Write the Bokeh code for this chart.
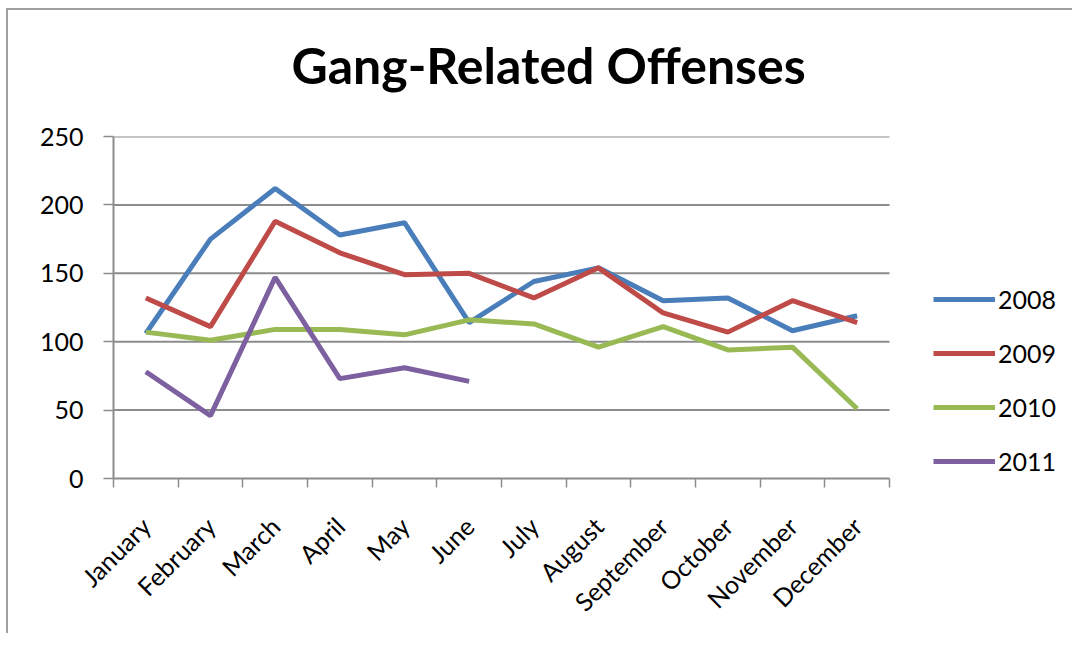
import math
from bokeh.plotting import figure
from bokeh.models import (Range1d, FixedTicker, Legend, LegendItem, ColumnDataSource,
                          Title, InlineStyleSheet, LinearAxis)
from bokeh.embed import file_html
from bokeh.resources import INLINE

months = ["January", "February", "March", "April", "May", "June",
          "July", "August", "September", "October", "November", "December"]
y2008 = [106, 175, 212, 178, 187, 114, 144, 154, 130, 132, 108, 119]
y2009 = [132, 111, 188, 165, 149, 150, 132, 154, 121, 107, 130, 114]
y2010 = [107, 101, 109, 109, 105, 116, 113, 96, 111, 94, 96, 51]
y2011 = [78, 46, 147, 73, 81, 71]
series_names = ["2008", "2009", "2010", "2011"]
series_values = [y2008, y2009, y2010, y2011]
series_colors = ["#4a7ebb", "#be4b48", "#98b954", "#7d60a0"]
y_ticks = [0, 50, 100, 150, 200, 250]
title_text = "Gang-Related Offenses"

GRAY = "#8c8c8c"
FONT = "Lato"

W, H = 1066, 625
LEFT, TOP, BOTTOM = 105, 126, 157
DATA_W = 776                      # pixel width of the category area
frame_w = W - LEFT
n = len(months)
x_end = n * frame_w / DATA_W

centers = [i + 0.5 for i in range(n)]
bounds = list(range(n + 1))

p = figure(width=W, height=H, output_backend="svg", toolbar_location=None,
           x_range=Range1d(0, x_end), y_range=Range1d(0, 250),
           min_border_left=LEFT, min_border_right=0, min_border_top=TOP,
           min_border_bottom=BOTTOM, title=None)
p.stylesheets = [InlineStyleSheet(
    css=":host { margin-left: 8px; margin-top: 10px; box-shadow: -2px -2px 0 0 #a0a0a0; }")]
p.outline_line_color = None
p.background_fill_color = "white"
p.border_fill_color = "white"

# invisible spacer axis between the plot area and the title
spacer = LinearAxis(ticker=FixedTicker(ticks=[0]), axis_line_color=None,
                    major_tick_line_color=None, minor_tick_line_color=None,
                    major_tick_out=42, major_tick_in=0, minor_tick_out=0,
                    major_label_standoff=0, major_label_overrides={0: ""},
                    major_label_text_font_size="1px")
p.add_layout(spacer, "above")

# title
title = Title(text=title_text, text_font=FONT, text_font_style="bold",
              text_font_size="50px", text_color="#000000", align="left",
              offset=178, standoff=0)
p.add_layout(title, "above")

# x axis
xa = p.below[0]
xa.bounds = (0, n)
xa.ticker = FixedTicker(ticks=centers, minor_ticks=bounds)
xa.major_label_overrides = {c: m for c, m in zip(centers, months)}
xa.major_tick_line_color = None
xa.minor_tick_line_color = GRAY
xa.minor_tick_line_width = 1.5
xa.minor_tick_in = 0
xa.minor_tick_out = 9
xa.axis_line_color = GRAY
xa.axis_line_width = 2
xa.major_label_orientation = math.pi / 4
xa.major_label_text_font = FONT
xa.major_label_text_font_size = "25px"
xa.major_label_text_color = "#000000"
xa.major_label_standoff = 34

# y axis
ya = p.yaxis[0]
ya.ticker = FixedTicker(ticks=y_ticks)
ya.major_tick_in = 0
ya.major_tick_out = 10
ya.major_tick_line_color = GRAY
ya.major_tick_line_width = 1.5
ya.minor_tick_line_color = None
ya.axis_line_color = GRAY
ya.axis_line_width = 2
ya.major_label_text_font = FONT
ya.major_label_text_font_size = "25px"
ya.major_label_text_color = "#000000"
ya.major_label_standoff = 20

# horizontal gridlines limited to the category area
p.xgrid.visible = False
p.ygrid.visible = False
grid_y = [t for t in y_ticks if t > 0]
p.segment(x0=[0] * len(grid_y), x1=[n] * len(grid_y), y0=grid_y, y1=grid_y,
          line_color=GRAY, line_width=2)

items = []
for name, vals, col in zip(series_names, series_values, series_colors):
    src = ColumnDataSource(dict(x=centers[:len(vals)], y=vals))
    r = p.line("x", "y", source=src, line_color=col, line_width=5)
    items.append(LegendItem(label=name, renderers=[r]))

legend = Legend(items=items, location=(820, 2), glyph_width=62, glyph_height=30,
                label_height=30, spacing=24, padding=0, margin=0,
                border_line_color=None, background_fill_alpha=0,
                label_text_font=FONT, label_text_font_size="25px",
                label_text_color="#000000", label_standoff=3)
p.add_layout(legend)

open("out.html", "w").write(file_html(p, INLINE))
